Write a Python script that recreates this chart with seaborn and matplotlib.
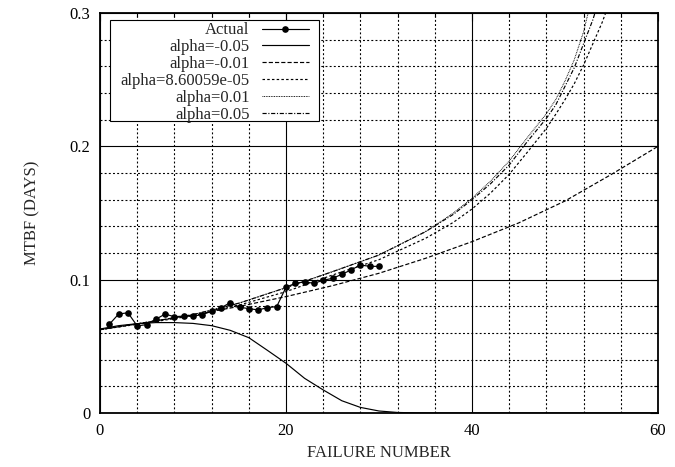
import numpy as np
import pandas as pd
import matplotlib
matplotlib.use("Agg")
import matplotlib.pyplot as plt
import seaborn as sns
from matplotlib.ticker import MultipleLocator
from matplotlib.patches import Rectangle

# ---- data ----
actual_x = list(range(1, 31))
actual_y = [0.0665, 0.0742, 0.0752, 0.0653, 0.0663, 0.0703, 0.0742, 0.0722, 0.0727, 0.0727,
            0.0737, 0.0763, 0.0788, 0.0828, 0.0793, 0.0783, 0.0773, 0.0790, 0.0798, 0.0943,
            0.0973, 0.0983, 0.0973, 0.0995, 0.1010, 0.1040, 0.1073, 0.1110, 0.1100, 0.1100]

am005_x = [0, 2, 4, 6, 8, 10, 12, 14, 16, 18, 20, 22, 24, 26, 28, 30, 32, 34, 36, 60]
am005_y = [0.0630, 0.0655, 0.0670, 0.0678, 0.0678, 0.0672, 0.0655, 0.0620, 0.0565, 0.0470,
           0.0373, 0.0260, 0.0173, 0.0092, 0.0042, 0.0015, 0.0004, 0.0001, 0.0, 0.0]

am001_x = [0, 5, 10, 15, 20, 25, 30, 35, 40, 45, 50, 55, 60]
am001_y = [0.0625, 0.0680, 0.0735, 0.0800, 0.0873, 0.0955, 0.1048, 0.1160, 0.1285, 0.1425,
           0.1590, 0.1790, 0.2000]

a0_x = [0, 5, 10, 15, 20, 25, 30, 35, 38, 40, 42, 44, 46, 48, 49, 50, 51, 52, 53, 54, 55]
a0_y = [0.0625, 0.0675, 0.0730, 0.0810, 0.0910, 0.1035, 0.1150, 0.1310, 0.1430, 0.1530,
        0.1650, 0.1790, 0.1960, 0.2135, 0.2240, 0.2350, 0.2470, 0.2610, 0.2770, 0.2930, 0.3120]

a001_x = [0, 5, 10, 15, 20, 25, 30, 35, 38, 40, 42, 44, 46, 48, 49, 50, 51, 52, 53]
a001_y = [0.0625, 0.0680, 0.0738, 0.0825, 0.0940, 0.1060, 0.1185, 0.1360, 0.1500, 0.1610,
          0.1740, 0.1890, 0.2070, 0.2245, 0.2350, 0.2490, 0.2650, 0.2860, 0.3150]

a005_x = [0, 5, 10, 15, 20, 25, 30, 35, 38, 40, 42, 44, 46, 48, 49, 50, 51, 52, 53, 54]
a005_y = [0.0625, 0.0680, 0.0738, 0.0825, 0.0940, 0.1060, 0.1185, 0.1360, 0.1490, 0.1600,
          0.1720, 0.1860, 0.2040, 0.2210, 0.2310, 0.2450, 0.2590, 0.2770, 0.2950, 0.3180]

labels = ["Actual", "alpha=-0.05", "alpha=-0.01", "alpha=8.60059e-05", "alpha=0.01", "alpha=0.05"]
x_ticks = [0, 20, 40, 60]
y_ticks = [0, 0.1, 0.2, 0.3]
y_ticklabels = ["0", "0.1", "0.2", "0.3"]
xlabel = "FAILURE NUMBER"
ylabel = "MTBF (DAYS)"

# ---- style ----
sns.set_style("white")
plt.rcParams["font.family"] = ["Liberation Serif", "DejaVu Serif"]
plt.rcParams["font.size"] = 12
plt.rcParams["lines.scale_dashes"] = False

fig = plt.figure(figsize=(6.75, 4.67), dpi=100)
ax = fig.add_axes([100 / 675, 1 - 413 / 467, 558 / 675, 400 / 467])

def frame(x, y):
    return pd.DataFrame({"x": x, "y": y})

lw = 0.85
sns.lineplot(data=frame(actual_x, actual_y), x="x", y="y", ax=ax, color="black", lw=lw,
             marker="o", markersize=4.8, markeredgewidth=0, label=labels[0], zorder=5)
sns.lineplot(data=frame(am005_x, am005_y), x="x", y="y", ax=ax, color="black", lw=lw,
             linestyle="-", label=labels[1])
sns.lineplot(data=frame(am001_x, am001_y), x="x", y="y", ax=ax, color="black", lw=lw,
             linestyle=(0, (3.0, 1.5)), label=labels[2])
sns.lineplot(data=frame(a0_x, a0_y), x="x", y="y", ax=ax, color="black", lw=lw,
             linestyle=(0, (1.8, 1.6)), label=labels[3])
sns.lineplot(data=frame(a001_x, a001_y), x="x", y="y", ax=ax, color="black", lw=0.7,
             linestyle=(0, (0.6, 0.6)), label=labels[4])
sns.lineplot(data=frame(a005_x, a005_y), x="x", y="y", ax=ax, color="black", lw=lw,
             linestyle=(0, (3.0, 1.2, 0.8, 1.2)), label=labels[5])

ax.set_xlim(0, 60)
ax.set_ylim(0, 0.3)
ax.set_xticks(x_ticks)
ax.set_yticks(y_ticks)
ax.set_yticklabels(y_ticklabels)
ax.xaxis.set_minor_locator(MultipleLocator(4))
ax.yaxis.set_minor_locator(MultipleLocator(0.02))

ax.grid(True, which="major", color="black", lw=0.8, linestyle="-")
ax.grid(True, which="minor", color="black", lw=0.8, linestyle=(0, (1.4, 1.6)))
ax.set_axisbelow(True)

ax.tick_params(which="both", direction="in", top=True, right=True, colors="black",
               labelsize=12)
ax.tick_params(which="major", length=6, width=0.8, pad=7)
ax.tick_params(which="minor", length=3, width=0.8)
for s in ax.spines.values():
    s.set_visible(True)
    s.set_color("black")
    s.set_linewidth(1.3)

ax.set_xlabel(xlabel, fontsize=12)
ax.set_ylabel(ylabel, fontsize=12)
ax.xaxis.set_label_coords(0.5, -(445 - 413) / 400)
ax.yaxis.set_label_coords((40 - 100) / 558, 0.5)

# legend box in axes coordinates (pixel box 110..319 x 20..121)
bx0, bx1 = 10 / 558, 219 / 558
by0, by1 = (413 - 121) / 400, (413 - 20) / 400
ax.add_patch(Rectangle((bx0, by0), bx1 - bx0, by1 - by0, transform=ax.transAxes,
                       facecolor="white", edgecolor="black", lw=0.8, zorder=6))
leg = ax.legend(loc="center", bbox_to_anchor=((bx0 + bx1) / 2, (by0 + by1) / 2 - 2 / 400),
                borderaxespad=0, markerfirst=False, frameon=False, fontsize=12,
                labelspacing=0.05, handlelength=2.8, handletextpad=0.75, borderpad=0)
leg.set_zorder(7)

fig.savefig("out.png", dpi=100)
